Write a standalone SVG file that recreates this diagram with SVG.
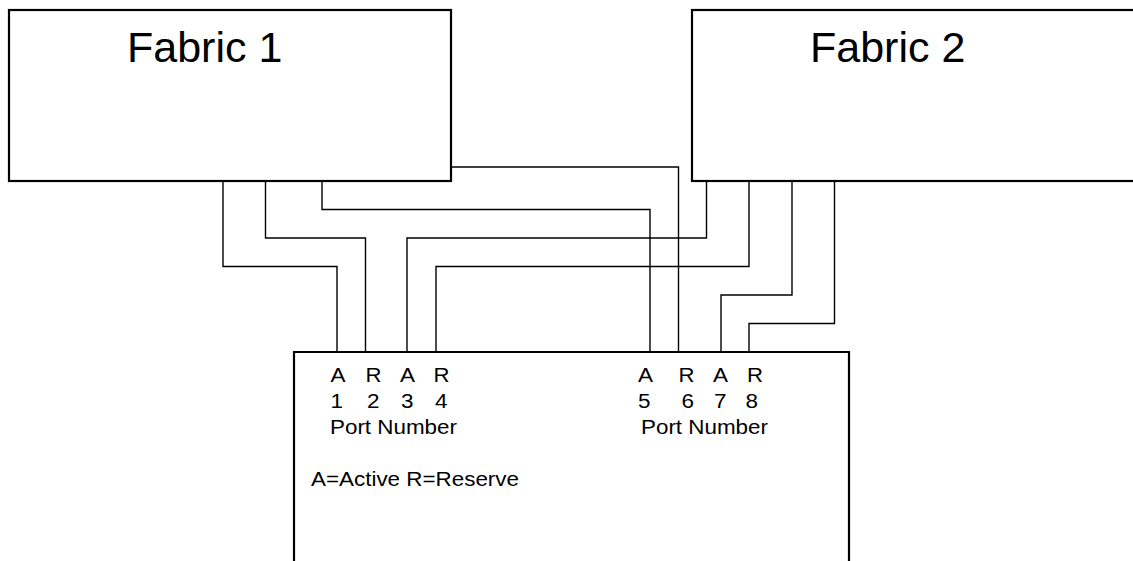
<svg xmlns="http://www.w3.org/2000/svg" width="1133" height="561" viewBox="0 0 1133 561">
<style>
.box{fill:#fff;stroke:#000;stroke-width:2.2}
.wire{fill:none;stroke:#000;stroke-width:1.4}
text{font-family:"Liberation Sans",Arial,sans-serif;fill:#000}
.big{font-size:43px}
.sm{font-size:20px}
</style>
<rect width="1133" height="561" fill="#fff"/>
<g id="fabric1">
<rect class="box" x="9" y="10" width="442" height="171"/>
<text class="big" x="127" y="62">Fabric 1</text>
</g>
<g id="fabric2">
<rect class="box" x="692" y="10" width="450" height="171"/>
<text class="big" x="810" y="62">Fabric 2</text>
</g>
<g id="device">
<path class="box" d="M294,565 V352 H849 V565"/>
<g class="sm" lengthAdjust="spacingAndGlyphs">
<text x="330.5" y="382" textLength="15" lengthAdjust="spacingAndGlyphs">A</text><text x="365.5" y="382" textLength="16" lengthAdjust="spacingAndGlyphs">R</text><text x="400" y="382" textLength="15" lengthAdjust="spacingAndGlyphs">A</text><text x="433.5" y="382" textLength="16" lengthAdjust="spacingAndGlyphs">R</text>
<text x="330.5" y="407.5" textLength="12.5" lengthAdjust="spacingAndGlyphs">1</text><text x="367" y="407.5" textLength="12.5" lengthAdjust="spacingAndGlyphs">2</text><text x="401" y="407.5" textLength="12.5" lengthAdjust="spacingAndGlyphs">3</text><text x="435" y="407.5" textLength="12.5" lengthAdjust="spacingAndGlyphs">4</text>
<text x="330" y="433.5" textLength="127" lengthAdjust="spacingAndGlyphs">Port Number</text>
<text x="638" y="382" textLength="15" lengthAdjust="spacingAndGlyphs">A</text><text x="678.5" y="382" textLength="16" lengthAdjust="spacingAndGlyphs">R</text><text x="713" y="382" textLength="15" lengthAdjust="spacingAndGlyphs">A</text><text x="747" y="382" textLength="16" lengthAdjust="spacingAndGlyphs">R</text>
<text x="638" y="407.5" textLength="12.5" lengthAdjust="spacingAndGlyphs">5</text><text x="681.5" y="407.5" textLength="12.5" lengthAdjust="spacingAndGlyphs">6</text><text x="714" y="407.5" textLength="12.5" lengthAdjust="spacingAndGlyphs">7</text><text x="745.5" y="407.5" textLength="12.5" lengthAdjust="spacingAndGlyphs">8</text>
<text x="641" y="433.5" textLength="127" lengthAdjust="spacingAndGlyphs">Port Number</text>
<text x="311" y="486" textLength="208" lengthAdjust="spacingAndGlyphs">A=Active R=Reserve</text>
</g>
</g>
<g id="connectors">
<path class="wire" d="M223,182 V266.5 H337 V351"/>
<path class="wire" d="M265.5,182 V238 H365.5 V351"/>
<path class="wire" d="M322,182 V209.5 H650 V351"/>
<path class="wire" d="M452,167 H678.5 V351"/>
<path class="wire" d="M706.5,182 V238 H407 V351"/>
<path class="wire" d="M749,182 V266.5 H436 V351"/>
<path class="wire" d="M792,182 V295 H721 V351"/>
<path class="wire" d="M834.5,182 V323.5 H749 V351"/>
</g>
</svg>
